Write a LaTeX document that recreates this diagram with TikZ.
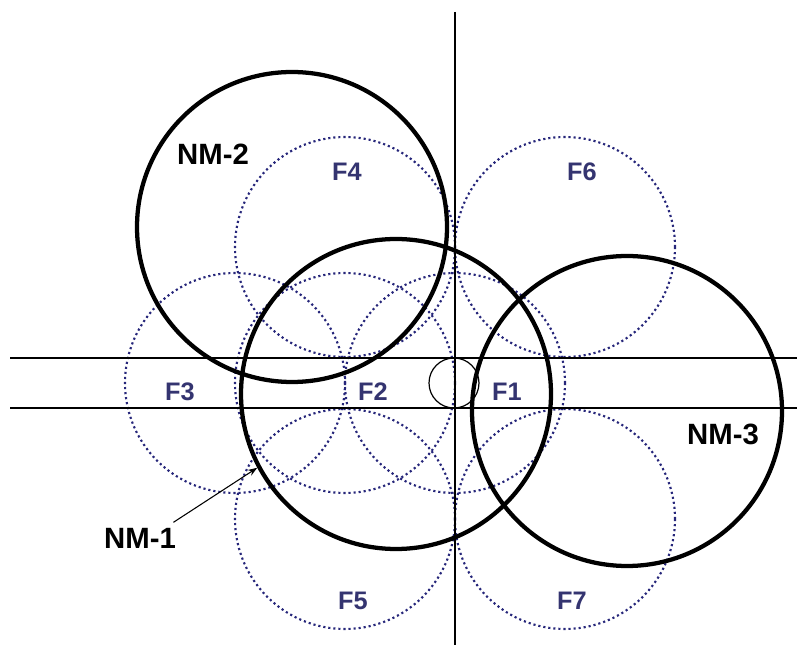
\documentclass[tikz,border=0pt]{standalone}
\usepackage{fontspec}
\setmainfont{Liberation Sans}
\usepackage{tikz}
\usetikzlibrary{arrows.meta, positioning}

\definecolor{cellblue}{RGB}{38,38,122}
\definecolor{labelblue}{RGB}{52,52,112}

\begin{document}
\begin{tikzpicture}[
  x=0.75pt, y=-0.75pt,
  >={Stealth[length=7pt, width=5pt]},
  every node/.style={font=\bfseries},
  cell/.style={
    circle, draw=cellblue, line width=1.6pt, dash pattern=on 1.6pt off 2.2pt,
    minimum size=165pt, inner sep=0pt
  },
  footprint/.style={circle, draw, line width=3.2pt, minimum size=232.5pt, inner sep=0pt},
  hub/.style={circle, draw, line width=0.9pt, minimum size=37.5pt, inner sep=0pt},
  axis/.style={line width=1.5pt},
  celltag/.style={font=\bfseries\fontsize{19}{21}\selectfont, text=labelblue, inner sep=1pt},
  nmtag/.style={font=\bfseries\fontsize{22}{24}\selectfont, inner sep=2pt}
]
\useasboundingbox (0,0) rectangle (797,645);

% --- Dotted cells ---
\node[cell] (f3c) at (235,383) {};
\node[cell] (f2c) at (345,383) {};
\node[cell] (f1c) at (455,383) {};
\node[cell] (f4c) at (345,247) {};
\node[cell] (f6c) at (565,247) {};
\node[cell] (f5c) at (345,519) {};
\node[cell] (f7c) at (565,519) {};

% --- Axes ---
\draw[axis] (455,12) -- (455,645);
\draw[axis] (10,358) -- (797,358);
\draw[axis] (10,408) -- (797,408);
\node[hub] (hub) at (454,383) {};

% --- Footprints ---
\node[footprint] (nm2c) at (292,227) {};
\node[footprint] (nm1c) at (396,394) {};
\node[footprint] (nm3c) at (627,411) {};

% --- Cell labels ---
\node[celltag] (f1) at (507,392) {F1};
\node[celltag] (f2) at (373,392) {F2};
\node[celltag] (f3) at (180,392) {F3};
\node[celltag] (f4) at (347,172) {F4};
\node[celltag] (f5) at (353,601) {F5};
\node[celltag] (f6) at (582,172) {F6};
\node[celltag] (f7) at (572,601) {F7};

% --- Footprint labels ---
\node[nmtag] (nm2) at (213,154) {NM-2};
\node[nmtag] (nm3) at (723,434) {NM-3};
\node[nmtag] (nm1) at (140,538) {NM-1};

\draw[->, line width=0.8pt] ([xshift=-4pt, yshift=2pt]nm1.north east) -- (nm1c.208);

\end{tikzpicture}
\end{document}
